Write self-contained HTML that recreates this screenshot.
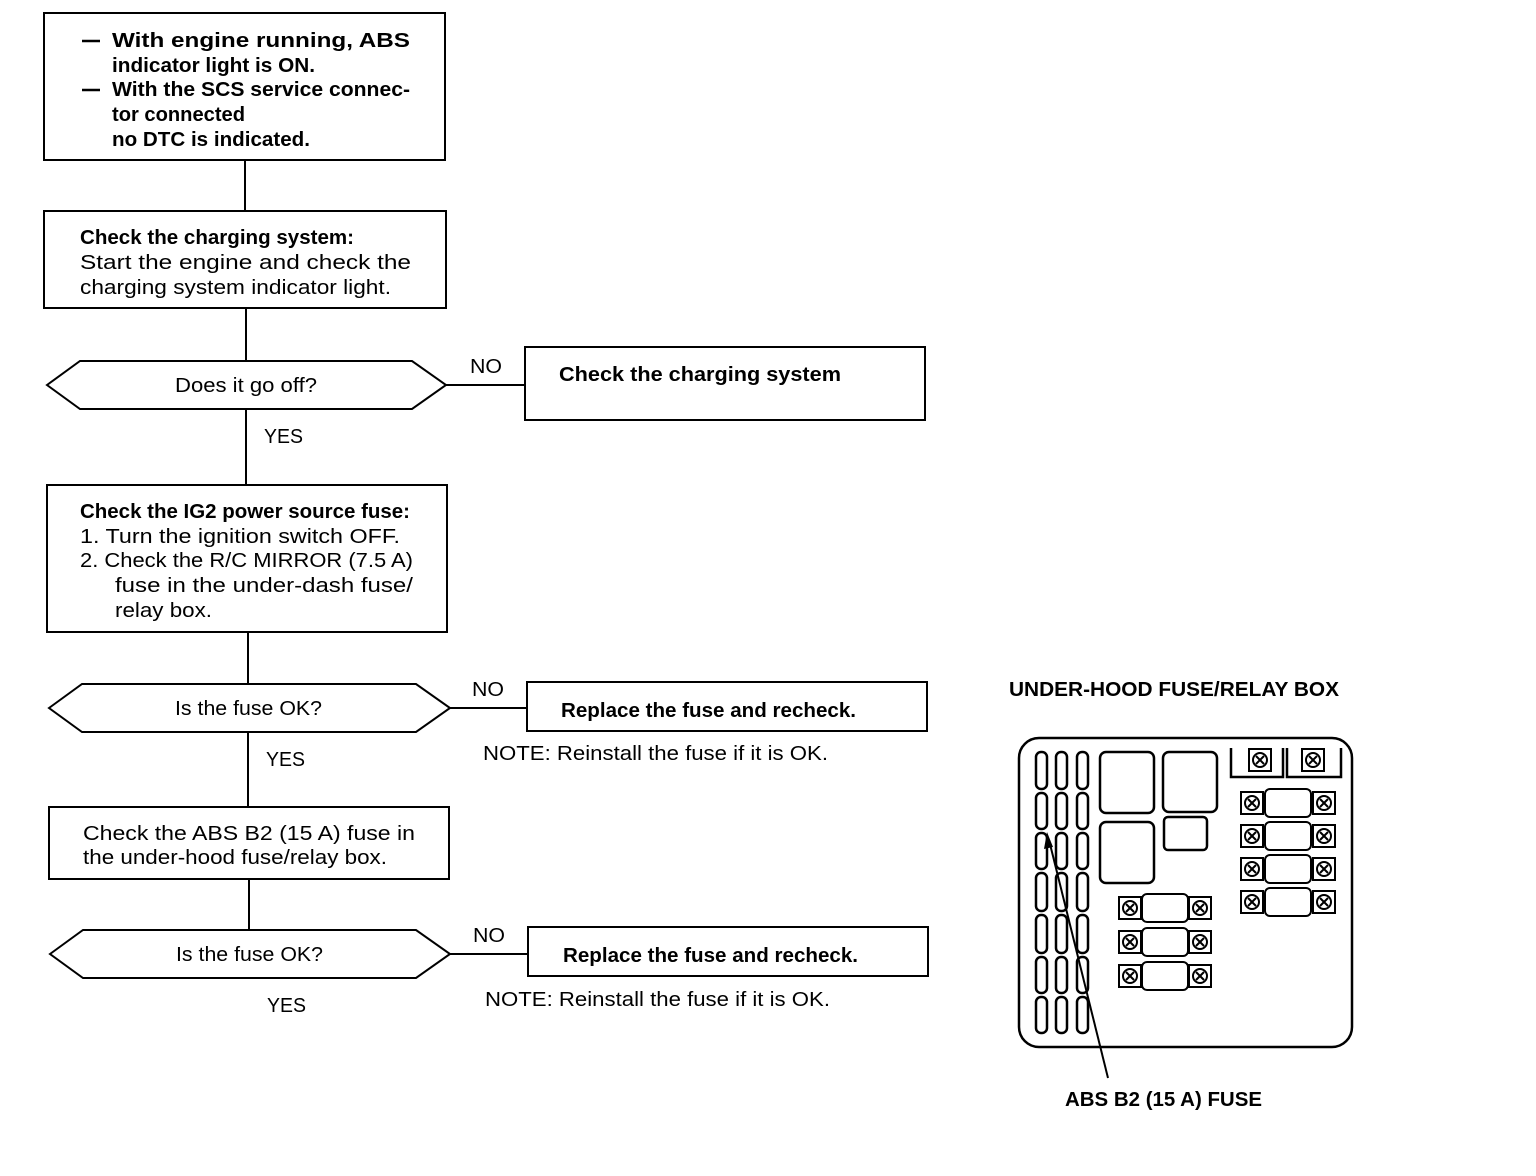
<!DOCTYPE html>
<html><head><meta charset="utf-8"><style>
html,body{margin:0;padding:0;background:#fff;}
svg{display:block;}
text{font-family:"Liberation Sans",sans-serif;font-size:20px;fill:#000;}
.b{font-weight:bold;}
</style></head><body>
<svg width="1536" height="1176" viewBox="0 0 1536 1176" xmlns="http://www.w3.org/2000/svg">
<defs>
<g id="scr" stroke="#000" stroke-width="2" fill="none"><rect x="-11" y="-11" width="22" height="22"/><circle r="7"/><line x1="-4" y1="-4" x2="4" y2="4"/><line x1="-4" y1="4" x2="4" y2="-4"/></g>
<g id="col" fill="none" stroke="#000" stroke-width="2.5">
<rect x="1036" y="752" width="11" height="37" rx="5"/>
<rect x="1036" y="793" width="11" height="36" rx="5"/>
<rect x="1036" y="833" width="11" height="36" rx="5"/>
<rect x="1036" y="873" width="11" height="38" rx="5"/>
<rect x="1036" y="915" width="11" height="38" rx="5"/>
<rect x="1036" y="957" width="11" height="36" rx="5"/>
<rect x="1036" y="997" width="11" height="36" rx="5"/>
</g>
<g id="fr" stroke="#000" stroke-width="2" fill="none"><use href="#scr" x="1252" y="803"/><rect x="1265" y="789" width="46" height="28" rx="5"/><use href="#scr" x="1324" y="803"/></g>
<g id="fl" stroke="#000" stroke-width="2" fill="none"><use href="#scr" x="1130" y="908"/><rect x="1142" y="894" width="46" height="28" rx="5"/><use href="#scr" x="1200" y="908"/></g>
</defs>
<g fill="none" stroke="#000" stroke-width="2">
<rect x="44" y="13" width="401" height="147"/>
<line x1="245" y1="160" x2="245" y2="211"/>
<rect x="44" y="211" width="402" height="97"/>
<line x1="246" y1="308" x2="246" y2="361"/>
<polygon points="47,385 80,361 412,361 446,385 412,409 80,409"/>
<line x1="446" y1="385" x2="525" y2="385"/>
<rect x="525" y="347" width="400" height="73"/>
<line x1="246" y1="409" x2="246" y2="485"/>
<rect x="47" y="485" width="400" height="147"/>
<line x1="248" y1="632" x2="248" y2="684"/>
<polygon points="49,708 82,684 416,684 450,708 416,732 82,732"/>
<line x1="450" y1="708" x2="527" y2="708"/>
<rect x="527" y="682" width="400" height="49"/>
<line x1="248" y1="732" x2="248" y2="807"/>
<rect x="49" y="807" width="400" height="72"/>
<line x1="249" y1="879" x2="249" y2="930"/>
<polygon points="50,954 83,930 416,930 450,954 416,978 83,978"/>
<line x1="450" y1="954" x2="528" y2="954"/>
<rect x="528" y="927" width="400" height="49"/>
</g>
<g stroke="#000" stroke-width="2.5">
<line x1="82" y1="41" x2="100" y2="41"/><line x1="82" y1="90" x2="100" y2="90"/>
</g>
<g lengthAdjust="spacingAndGlyphs">
<text class="b" x="112" y="47" textLength="298" lengthAdjust="spacingAndGlyphs">With engine running, ABS</text>
<text class="b" x="112" y="72" textLength="203" lengthAdjust="spacingAndGlyphs">indicator light is ON.</text>
<text class="b" x="112" y="96" textLength="298" lengthAdjust="spacingAndGlyphs">With the SCS service connec-</text>
<text class="b" x="112" y="121" textLength="133" lengthAdjust="spacingAndGlyphs">tor connected</text>
<text class="b" x="112" y="146" textLength="198" lengthAdjust="spacingAndGlyphs">no DTC is indicated.</text>

<text class="b" x="80" y="244" textLength="274" lengthAdjust="spacingAndGlyphs">Check the charging system:</text>
<text x="80" y="269" textLength="331" lengthAdjust="spacingAndGlyphs">Start the engine and check the</text>
<text x="80" y="294" textLength="311" lengthAdjust="spacingAndGlyphs">charging system indicator light.</text>
<text x="175" y="392" textLength="142" lengthAdjust="spacingAndGlyphs">Does it go off?</text>
<text x="470" y="373" textLength="32" lengthAdjust="spacingAndGlyphs">NO</text>
<text class="b" x="559" y="381" textLength="282" lengthAdjust="spacingAndGlyphs">Check the charging system</text>
<text x="264" y="443" textLength="39" lengthAdjust="spacingAndGlyphs">YES</text>

<text class="b" x="80" y="518" textLength="330" lengthAdjust="spacingAndGlyphs">Check the IG2 power source fuse:</text>
<text x="80" y="543" textLength="320" lengthAdjust="spacingAndGlyphs">1.  Turn the ignition switch OFF.</text>
<text x="80" y="567" textLength="333" lengthAdjust="spacingAndGlyphs">2.  Check the R/C MIRROR (7.5 A)</text>
<text x="115" y="592" textLength="298" lengthAdjust="spacingAndGlyphs">fuse in the under-dash fuse/</text>
<text x="115" y="617" textLength="97" lengthAdjust="spacingAndGlyphs">relay box.</text>
<text x="175" y="715" textLength="147" lengthAdjust="spacingAndGlyphs">Is the fuse OK?</text>
<text x="472" y="696" textLength="32" lengthAdjust="spacingAndGlyphs">NO</text>
<text class="b" x="561" y="717" textLength="295" lengthAdjust="spacingAndGlyphs">Replace the fuse and recheck.</text>
<text x="483" y="760" textLength="345" lengthAdjust="spacingAndGlyphs">NOTE:  Reinstall the fuse if it is OK.</text>
<text x="266" y="766" textLength="39" lengthAdjust="spacingAndGlyphs">YES</text>

<text x="83" y="840" textLength="332" lengthAdjust="spacingAndGlyphs">Check the ABS B2 (15 A) fuse in</text>
<text x="83" y="864" textLength="304" lengthAdjust="spacingAndGlyphs">the under-hood fuse/relay box.</text>
<text x="176" y="961" textLength="147" lengthAdjust="spacingAndGlyphs">Is the fuse OK?</text>
<text x="473" y="942" textLength="32" lengthAdjust="spacingAndGlyphs">NO</text>
<text class="b" x="563" y="962" textLength="295" lengthAdjust="spacingAndGlyphs">Replace the fuse and recheck.</text>
<text x="485" y="1006" textLength="345" lengthAdjust="spacingAndGlyphs">NOTE:  Reinstall the fuse if it is OK.</text>
<text x="267" y="1012" textLength="39" lengthAdjust="spacingAndGlyphs">YES</text>

<text class="b" x="1009" y="696" textLength="330" lengthAdjust="spacingAndGlyphs">UNDER-HOOD FUSE/RELAY BOX</text>
<text class="b" x="1065" y="1106" textLength="197" lengthAdjust="spacingAndGlyphs">ABS B2 (15 A) FUSE</text>
</g>

<g fill="none" stroke="#000" stroke-width="2.5">
<rect x="1019" y="738" width="333" height="309" rx="20"/>
<rect x="1100" y="752" width="54" height="61" rx="6"/>
<rect x="1163" y="752" width="54" height="60" rx="6"/>
<rect x="1100" y="822" width="54" height="61" rx="6"/>
<rect x="1164" y="817" width="43" height="33" rx="4"/>
<polyline points="1231,748 1231,777 1283,777 1283,748"/>
<polyline points="1287,748 1287,777 1341,777 1341,748"/>
</g>
<use href="#col"/>
<use href="#col" x="20"/>
<use href="#col" x="41"/>
<use href="#scr" x="1260" y="760"/><use href="#scr" x="1313" y="760"/>
<use href="#fr"/><use href="#fr" y="33"/><use href="#fr" y="66"/><use href="#fr" y="99"/>
<use href="#fl"/><use href="#fl" y="34"/><use href="#fl" y="68"/>
<line x1="1108" y1="1078" x2="1049" y2="840" stroke="#000" stroke-width="2"/>
<polygon points="1047,832 1044,849 1053,847" fill="#000"/>
</svg>
</body></html>
